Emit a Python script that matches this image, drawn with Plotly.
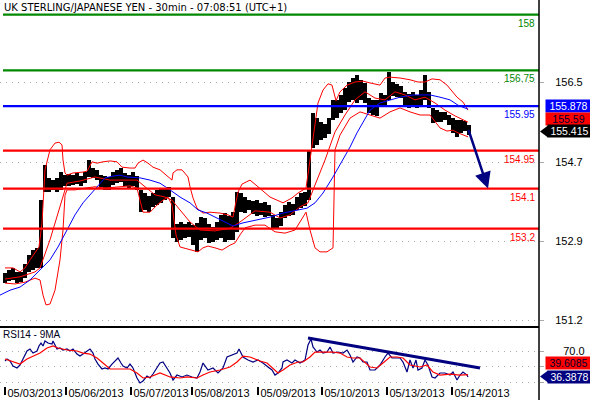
import plotly.graph_objects as go

TITLE = "UK STERLING/JAPANESE YEN - 30min - 07:08:51 (UTC+1)"

# time index: 1 unit = 22.5 minutes (64 units per trading day)
DAY_POS = [0, 61, 126, 187, 253, 317, 382, 447]
DAY_LABELS = ["05/03/2013", "05/06/2013", "05/07/2013", "05/08/2013",
              "05/09/2013", "05/10/2013", "05/13/2013", "05/14/2013"]

BAR_T = list(range(0, 468, 4))
HIGH = [152.21, 152.27, 152.32, 152.23, 152.23, 152.41, 152.61, 152.72, 152.77, 153.84,
        154.63, 154.34, 154.29, 154.34, 154.47, 154.40, 154.43, 154.40, 154.45, 154.38,
        154.47, 154.74, 154.56, 154.52, 154.40, 154.38, 154.36, 154.47, 154.52, 154.56,
        154.45, 154.40, 154.47, 154.38, 154.07, 154.00, 153.93, 154.00, 154.07, 154.11,
        154.11, 154.14, 153.91, 153.31, 153.35, 153.31, 153.35, 153.28, 153.33, 153.46,
        153.44, 153.31, 153.24, 153.35, 153.51, 153.55, 153.49, 153.57, 154.02, 154.00,
        153.91, 153.84, 153.82, 153.84, 153.78, 153.80, 153.73, 153.51, 153.44, 153.57,
        153.73, 153.80, 153.75, 153.91, 154.00, 154.02, 154.97, 155.80, 155.68, 155.59,
        155.55, 155.68, 156.09, 156.09, 156.20, 156.36, 156.49, 156.58, 156.65, 156.54,
        156.47, 156.13, 156.09, 156.09, 156.24, 156.20, 156.72, 156.49, 156.45, 156.40,
        156.27, 156.22, 156.27, 156.20, 156.31, 156.65, 156.27, 155.91, 155.86, 155.82,
        155.82, 155.75, 155.68, 155.64, 155.64, 155.62, 155.53]
LOW = [151.98, 152.03, 152.05, 151.98, 152.00, 152.09, 152.23, 152.27, 152.32, 152.32,
       154.02, 154.02, 154.07, 154.02, 154.07, 154.16, 154.16, 154.18, 154.20, 154.16,
       154.23, 154.36, 154.34, 154.29, 154.14, 154.07, 154.07, 154.18, 154.23, 154.25,
       154.16, 154.11, 154.16, 154.07, 153.57, 153.62, 153.57, 153.69, 153.73, 153.78,
       153.84, 153.91, 152.99, 152.90, 152.95, 152.99, 153.01, 152.83, 152.68, 152.95,
       152.99, 152.88, 152.90, 152.95, 152.99, 152.90, 152.95, 152.95, 153.13, 153.57,
       153.55, 153.62, 153.53, 153.49, 153.51, 153.46, 153.49, 153.22, 153.19, 153.26,
       153.44, 153.49, 153.51, 153.62, 153.66, 153.71, 153.84, 155.01, 155.08, 155.19,
       155.23, 155.32, 155.64, 155.68, 155.80, 155.86, 156.04, 156.09, 156.02, 156.09,
       156.02, 155.80, 155.75, 155.73, 155.93, 155.93, 156.09, 156.18, 156.15, 156.13,
       155.95, 155.91, 155.93, 155.91, 155.95, 156.09, 155.91, 155.57, 155.59, 155.59,
       155.64, 155.53, 155.35, 155.26, 155.35, 155.39, 155.30]

UPPER_T = [0, 8, 15, 20, 25, 32, 34, 37, 40, 45, 50, 54, 57, 58, 60, 62, 68, 78, 82, 87,
           92, 98, 105, 112, 117, 125, 130, 133, 138, 143, 148, 155, 163, 167, 168, 172,
           177, 183, 185, 188, 192, 198, 205, 215, 223, 228, 230, 233, 237, 245, 253, 260,
           265, 278, 287, 293, 301, 305, 310, 313, 318, 323, 327, 329, 331, 335, 342, 350,
           358, 365, 375, 380, 385, 395, 405, 413, 420, 427, 435, 442, 447, 452, 458, 463]
UPPER = [152.32, 152.32, 152.23, 152.32, 152.50, 152.72, 152.79, 153.33, 154.52, 154.97,
         155.12, 155.14, 155.08, 154.74, 154.45, 154.40, 154.45, 154.47, 154.49, 154.70,
         154.67, 154.70, 154.72, 154.70, 154.58, 154.56, 154.56, 154.67, 154.74, 154.67,
         154.58, 154.52, 154.36, 154.29, 154.45, 154.52, 154.52, 154.36, 154.14, 153.89,
         153.66, 153.55, 153.57, 153.55, 153.51, 153.46, 153.69, 154.02, 154.20, 154.29,
         154.14, 154.00, 153.91, 153.78, 153.89, 154.00, 154.11, 154.74, 155.48, 156.02,
         156.31, 156.45, 156.42, 156.24, 156.07, 156.27, 156.42, 156.49, 156.51, 156.47,
         156.42, 156.58, 156.60, 156.58, 156.54, 156.49, 156.49, 156.56, 156.54, 156.42,
         156.29, 156.15, 156.04, 155.86]

MID_T = [0, 15, 30, 35, 45, 55, 62, 75, 90, 105, 120, 132, 140, 150, 160, 167, 175, 185,
         195, 210, 225, 235, 250, 265, 275, 285, 295, 303, 310, 320, 330, 340, 350, 360,
         370, 380, 390, 400, 410, 420, 430, 440, 450, 463]
MID = [152.07, 152.12, 152.23, 152.32, 152.95, 153.73, 154.22, 154.27, 154.36, 154.29,
       154.29, 154.29, 154.14, 153.96, 153.91, 153.84, 153.62, 153.35, 153.17, 153.15,
       153.21, 153.35, 153.60, 153.57, 153.44, 153.51, 153.69, 153.78, 154.18, 154.74,
       155.37, 155.75, 156.09, 156.27, 156.13, 156.09, 156.27, 156.20, 156.09, 156.15,
       156.02, 155.86, 155.73, 155.59]

LOWER_T = [0, 10, 20, 30, 35, 38, 41, 45, 50, 55, 58, 60, 62, 70, 80, 90, 100, 115, 125,
           132, 135, 138, 145, 152, 158, 163, 167, 171, 175, 185, 193, 198, 203, 210, 217,
           225, 230, 235, 240, 250, 260, 270, 280, 290, 297, 301, 305, 310, 315, 322, 328,
           330, 335, 345, 355, 365, 375, 385, 395, 405, 415, 425, 435, 442, 448, 453, 458, 463]
LOWER = [151.98, 151.96, 152.00, 152.09, 152.05, 151.71, 151.49, 151.51, 151.82, 152.50,
         153.17, 153.95, 154.07, 154.07, 154.11, 154.14, 154.11, 154.14, 154.16, 154.11,
         153.84, 153.57, 153.57, 153.73, 153.84, 153.91, 153.73, 153.06, 152.79, 152.72,
         152.68, 152.77, 152.81, 152.77, 152.72, 152.83, 152.88, 153.06, 153.22, 153.28,
         153.28, 153.13, 153.10, 153.17, 153.44, 153.57, 153.17, 152.77, 152.68, 152.68,
         152.77, 154.97, 155.30, 155.68, 155.82, 155.75, 155.68, 155.82, 155.91, 155.82,
         155.75, 155.75, 155.46, 155.39, 155.41, 155.35, 155.30, 155.26]

MA_T = [-5, 5, 15, 25, 33, 45, 53, 62, 70, 78, 87, 95, 100, 108, 115, 122, 135, 145, 155,
        165, 175, 185, 193, 202, 212, 220, 228, 238, 252, 265, 278, 295, 302, 310, 318,
        328, 338, 345, 352, 358, 365, 375, 387, 395, 408, 425, 435, 445, 453, 463]
MA = [151.71, 151.82, 151.89, 152.05, 152.23, 152.50, 152.79, 153.17, 153.51, 153.78,
      154.00, 154.22, 154.34, 154.38, 154.40, 154.36, 154.34, 154.29, 154.22, 154.07,
      153.91, 153.78, 153.62, 153.55, 153.44, 153.35, 153.26, 153.33, 153.39, 153.46,
      153.55, 153.62, 153.66, 153.78, 154.00, 154.36, 154.74, 155.03, 155.35, 155.59,
      155.86, 156.02, 156.09, 156.15, 156.20, 156.20, 156.15, 156.09, 155.97, 155.88]

LEVELS = [158, 156.75, 155.95, 154.95, 154.1, 153.2]
LEVEL_COLORS = ["#008800", "#008800", "#0000ff", "#ff0000", "#ff0000", "#ff0000"]

ARROW_T = [463, 483]
ARROW_P = [155.45, 154.1]

PRICE_TICKS = [156.49, 154.69, 152.92, 151.15]
PRICE_TICK_TEXT = ["156.5", "154.7", "152.9", "151.2"]

LAST_MA, LAST_MID, LAST_CLOSE = 155.878, 155.59, 155.415

RSI_T = [0, 2, 5, 8, 12, 15, 18, 22, 25, 28, 32, 34, 36, 38, 40, 43, 47, 48, 52, 55, 58,
         62, 65, 68, 72, 75, 78, 82, 85, 88, 90, 93, 97, 100, 103, 107, 110, 113, 116, 118,
         122, 125, 128, 132, 135, 138, 142, 145, 148, 152, 155, 158, 165, 168, 172, 177,
         182, 187, 192, 195, 198, 203, 208, 213, 218, 222, 227, 232, 234, 238, 243, 248,
         253, 258, 263, 267, 270, 273, 277, 278, 282, 287, 290, 295, 300, 303, 306, 308,
         312, 315, 318, 322, 325, 328, 333, 338, 342, 345, 348, 352, 355, 358, 362, 365,
         370, 375, 380, 383, 387, 390, 395, 398, 402, 405, 408, 411, 413, 417, 420, 423,
         427, 430, 435, 440, 445, 448, 452, 455, 458, 462, 463]
RSI = [57.1, 59.7, 57.1, 50.6, 48.1, 51.9, 59.7, 70.0, 72.6, 67.4, 70.0, 76.5, 80.3, 76.5,
       82.9, 80.3, 79.0, 82.9, 72.6, 73.9, 71.3, 72.6, 70.0, 72.6, 66.1, 63.5, 66.1, 70.0,
       72.6, 67.4, 59.7, 53.2, 46.8, 48.1, 46.8, 53.2, 57.1, 61.0, 54.5, 50.6, 48.1, 53.2,
       48.1, 35.2, 28.7, 31.3, 37.7, 35.2, 40.3, 48.1, 54.5, 55.8, 41.6, 32.6, 39.0, 36.5,
       39.0, 36.5, 35.2, 42.9, 54.5, 45.5, 48.1, 41.6, 48.1, 62.3, 64.8, 67.4, 72.6, 62.3,
       58.4, 55.8, 58.4, 54.5, 49.4, 45.5, 39.0, 41.6, 48.1, 55.8, 58.4, 54.5, 58.4, 54.5,
       58.4, 77.7, 85.5, 75.2, 68.7, 71.3, 67.4, 68.7, 75.2, 67.4, 68.7, 67.4, 71.3, 64.8,
       55.8, 62.3, 61.0, 55.8, 55.8, 45.5, 45.5, 51.9, 62.3, 67.4, 61.0, 61.0, 61.0, 55.8,
       42.9, 58.4, 48.1, 58.4, 45.5, 48.1, 58.4, 51.9, 36.5, 35.2, 41.6, 41.6, 39.0, 42.9,
       32.6, 39.0, 42.9, 39.0, 36.4]

RSI_MA_T = [0, 15, 22, 28, 35, 42, 48, 53, 62, 72, 78, 85, 92, 98, 105, 112, 118, 125,
            132, 138, 145, 152, 155, 165, 175, 182, 192, 198, 205, 215, 225, 232, 238, 245,
            255, 262, 268, 273, 278, 285, 293, 298, 305, 310, 318, 328, 335, 342, 348, 355,
            365, 372, 378, 385, 392, 398, 405, 415, 422, 428, 435, 445, 455, 463]
RSI_MA = [59.7, 53.2, 59.7, 63.5, 67.4, 73.9, 76.5, 73.9, 71.3, 70.0, 67.4, 66.1, 61.0,
          54.5, 46.8, 46.8, 46.8, 46.8, 41.6, 35.2, 36.5, 40.3, 41.6, 36.5, 35.2, 36.5,
          35.2, 39.0, 42.9, 45.5, 49.4, 55.8, 63.5, 62.3, 57.1, 54.5, 48.1, 41.6, 45.5,
          51.9, 55.8, 55.8, 62.3, 68.7, 68.7, 68.7, 67.4, 62.3, 61.0, 61.0, 49.4, 48.1,
          54.5, 62.3, 62.3, 61.0, 51.9, 49.4, 51.9, 42.9, 39.0, 40.3, 39.0, 39.6]

RSI_TREND_T = [303, 475]
RSI_TREND = [86.8, 48.1]
LAST_RSI, LAST_RSI_MA = 36.3878, 39.6085

FONT = "Arial, Liberation Sans, sans-serif"
W, H = 590, 400
AXIS_PX = 539
XR = AXIS_PX / W

fig = go.Figure()

fig.add_trace(go.Bar(x=BAR_T, y=[h - l for h, l in zip(HIGH, LOW)], base=LOW,
                     width=3.1, marker=dict(color="black", line=dict(width=0)),
                     xaxis="x", yaxis="y", hoverinfo="skip"))
for t, v, c in [(UPPER_T, UPPER, "#ff0000"), (MID_T, MID, "#ff0000"),
                (LOWER_T, LOWER, "#ff0000"), (MA_T, MA, "#0000ff")]:
    fig.add_trace(go.Scatter(x=t, y=v, mode="lines", line=dict(color=c, width=1),
                             xaxis="x", yaxis="y", hoverinfo="skip"))

fig.add_trace(go.Scatter(x=RSI_T, y=RSI, mode="lines", line=dict(color="#000080", width=1.2),
                         xaxis="x2", yaxis="y2"))
fig.add_trace(go.Scatter(x=RSI_MA_T, y=RSI_MA, mode="lines", line=dict(color="#ff0000", width=1.2),
                         xaxis="x2", yaxis="y2"))
fig.add_trace(go.Scatter(x=RSI_TREND_T, y=RSI_TREND, mode="lines", line=dict(color="#000080", width=3),
                         xaxis="x2", yaxis="y2"))

shapes = []
annotations = []
for lv, col in zip(LEVELS, LEVEL_COLORS):
    shapes.append(dict(type="line", xref="x", yref="y", x0=-2, x1=534, y0=lv, y1=lv,
                       line=dict(color=col, width=2.2), layer="above"))
    annotations.append(dict(x=537 / W, xref="paper", y=lv, yref="y", text=f"{lv:g}",
                            showarrow=False, xanchor="right", yanchor="top", yshift=-1,
                            font=dict(family=FONT, size=10, color=col)))

# right axis line across both panels
shapes.append(dict(type="line", xref="paper", yref="paper", x0=XR, x1=XR, y0=0, y1=1,
                   line=dict(color="black", width=1.5)))

annotations.append(dict(x=2 / W, xref="paper", y=1, yref="paper", text=TITLE, showarrow=False,
                        xanchor="left", yanchor="top", yshift=0,
                        font=dict(family="DejaVu Sans", size=10, color="black")))
annotations.append(dict(x=1 / W, xref="paper", y=1 - 326 / H, yref="paper", text="RSI14 - 9MA",
                        showarrow=False, xanchor="left", yanchor="top", yshift=-1,
                        font=dict(family=FONT, size=10, color="#000020")))

# trend arrow
annotations.append(dict(x=ARROW_T[1], y=ARROW_P[1], ax=ARROW_T[0], ay=ARROW_P[0],
                        xref="x", yref="y", axref="x", ayref="y", showarrow=True,
                        arrowhead=2, arrowsize=1.3, arrowwidth=2.5, arrowcolor="#000080", text=""))

def value_box(val, yref, txt, bg, fg, yshift, left_px, arrow):
    annotations.append(dict(x=left_px / W, xref="paper", y=val, yref=yref, text=txt,
                            showarrow=False, xanchor="left", yanchor="middle", yshift=yshift,
                            bgcolor=bg, borderpad=0, width=W - left_px, height=12,
                            align="center", font=dict(family=FONT, size=10.5, color=fg)))
    if arrow:
        shapes.append(dict(type="path", xref="paper", yref=yref, xsizemode="pixel",
                           ysizemode="pixel", xanchor=left_px / W, yanchor=val,
                           path=f"M1,{yshift + 6} L-7,{yshift} L1,{yshift - 6} Z",
                           fillcolor=bg, line=dict(width=0)))

value_box(LAST_MA, "y", f"{LAST_MA}", "#0000ff", "white", 3, 545, False)
value_box(LAST_MID, "y", f"{LAST_MID}", "#ff0000", "#000030", 3.5, 545, False)
value_box(LAST_CLOSE, "y", f"{LAST_CLOSE}", "black", "white", -1.5, 547, True)
value_box(LAST_RSI_MA, "y2", f"{LAST_RSI_MA}", "#ff0000", "#000030", 12, 545, False)
value_box(LAST_RSI, "y2", f"{LAST_RSI}", "#000080", "white", 0.5, 547, True)

fig.update_layout(
    width=W, height=H, margin=dict(l=0, r=0, t=0, b=0, autoexpand=False),
    paper_bgcolor="white", plot_bgcolor="white", showlegend=False,
    font=dict(family=FONT, size=11, color="black"),
    barmode="overlay", bargap=0,
    shapes=shapes, annotations=annotations,
    xaxis=dict(domain=[0, XR], range=[-5, AXIS_PX - 5], matches="x2", showticklabels=False,
               showgrid=False, zeroline=False, showline=True, linecolor="black", linewidth=1.5,
               ticks="", anchor="y"),
    yaxis=dict(domain=[1 - 326 / H, 1], range=[151.017, 158.33], side="right", anchor="x",
               tickvals=PRICE_TICKS, ticktext=PRICE_TICK_TEXT, showgrid=True,
               gridcolor="#aaaaaa", griddash="1px,5px", gridwidth=1, zeroline=False,
               ticks="outside", ticklen=4, tickcolor="#aaaaaa", ticklabelstandoff=9,
               tickfont=dict(family=FONT, size=11, color="black"), showline=False),
    xaxis2=dict(domain=[0, XR], range=[-5, AXIS_PX - 5], anchor="y2", tickvals=DAY_POS,
                ticktext=DAY_LABELS, ticks="outside", ticklen=8, tickcolor="black",
                tickwidth=1.5, ticklabelshift=30, ticklabelstandoff=-11, showgrid=False,
                zeroline=False, showline=False,
                tickfont=dict(family=FONT, size=11, color="black")),
    yaxis2=dict(domain=[1 - 386 / H, 1 - 326 / H], range=[24.85, 102.3], side="right",
                anchor="x2", tickvals=[30, 50, 70], ticktext=["", "", "70.0"], showgrid=True,
                gridcolor="#aaaaaa", griddash="1px,5px", zeroline=False, ticks="outside",
                ticklen=4, tickcolor="#aaaaaa", ticklabelstandoff=17,
                tickfont=dict(family=FONT, size=11, color="black"), showline=False),
)

fig.write_html("out.html", config={"displayModeBar": False},
               post_script="document.body.style.margin='0';document.body.style.padding='0';")
